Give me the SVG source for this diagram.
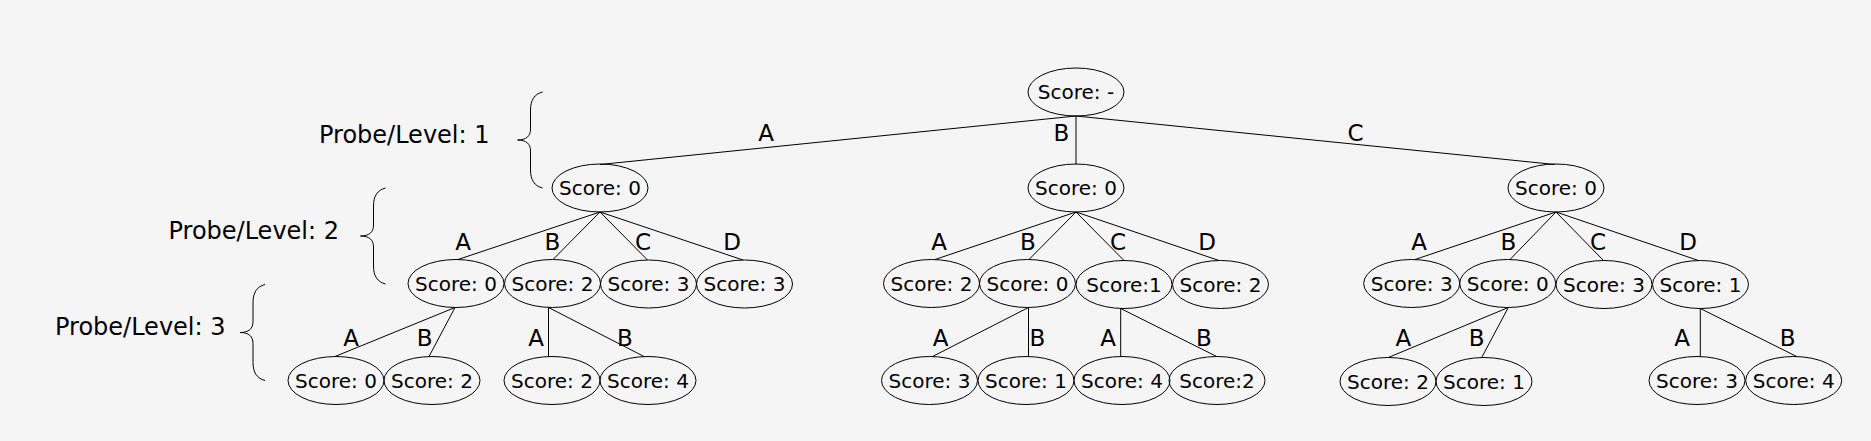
<svg xmlns="http://www.w3.org/2000/svg" xmlns:xlink="http://www.w3.org/1999/xlink" width="1871" height="441" viewBox="0 0 1871 441">
<style>
.bg{fill:#f5f5f5}
.node ellipse{fill:none;stroke:#000;stroke-width:1}
.node text{font-family:"DejaVu Sans","Liberation Sans",sans-serif;font-size:20px;text-anchor:middle;fill:#000}
.edges line{stroke:#000;stroke-width:1}
.elab{font-family:"DejaVu Sans","Liberation Sans",sans-serif;font-size:23px;text-anchor:middle;fill:#000}
.lvl{font-family:"DejaVu Sans","Liberation Sans",sans-serif;font-size:24px;fill:#000}
.brace{fill:none;stroke:#000;stroke-width:1}
</style>
<defs>
<path id="brace" d="M 25 -48 C 17 -46, 13 -40, 13 -30 L 13 -11 C 13 -4, 9 0, 0 0 C 9 0, 13 4, 13 11 L 13 30 C 13 40, 17 46, 25 48"/>
</defs>
<rect class="bg" x="0" y="0" width="1871" height="441"/>

<g id="levels">
<text class="lvl" x="319" y="143">Probe/Level: 1</text>
<use href="#brace" xlink:href="#brace" class="brace" x="517.5" y="140"/>
<text class="lvl" x="168.5" y="239">Probe/Level: 2</text>
<use href="#brace" xlink:href="#brace" class="brace" x="360.5" y="236"/>
<text class="lvl" x="55" y="335">Probe/Level: 3</text>
<use href="#brace" xlink:href="#brace" class="brace" x="240" y="332.5"/>
</g>

<g id="connectors" class="edges">
<line x1="1076" y1="116" x2="600" y2="164.5"/>
<line x1="1076" y1="116" x2="1076" y2="164.5"/>
<line x1="1076" y1="116" x2="1555" y2="164.5"/>
<line x1="600" y1="212" x2="458" y2="259.5"/>
<line x1="600" y1="212" x2="553" y2="259.5"/>
<line x1="600" y1="212" x2="647.5" y2="260"/>
<line x1="600" y1="212" x2="743" y2="260"/>
<line x1="1076" y1="212" x2="935" y2="259.5"/>
<line x1="1076" y1="212" x2="1029" y2="259.5"/>
<line x1="1076" y1="212" x2="1124" y2="260.5"/>
<line x1="1076" y1="212" x2="1219" y2="260.5"/>
<line x1="1556" y1="212" x2="1415" y2="259.5"/>
<line x1="1556" y1="212" x2="1510" y2="259.5"/>
<line x1="1556" y1="212" x2="1603.5" y2="260.5"/>
<line x1="1556" y1="212" x2="1698.5" y2="260.5"/>
<line x1="455" y1="307.5" x2="335" y2="356.5"/>
<line x1="455" y1="307.5" x2="429" y2="356.5"/>
<line x1="548.5" y1="307.5" x2="548.5" y2="356.5"/>
<line x1="548.5" y1="307.5" x2="644" y2="356.5"/>
<line x1="1028.5" y1="307.5" x2="932.5" y2="356.5"/>
<line x1="1028.5" y1="307.5" x2="1028.5" y2="356.5"/>
<line x1="1120.7" y1="308.5" x2="1120.7" y2="356.5"/>
<line x1="1120.7" y1="308.5" x2="1216.7" y2="356.5"/>
<line x1="1508.3" y1="307.5" x2="1388.3" y2="357.5"/>
<line x1="1508.3" y1="307.5" x2="1481.7" y2="357.5"/>
<line x1="1700.3" y1="308.5" x2="1700.3" y2="356.5"/>
<line x1="1700.3" y1="308.5" x2="1796.7" y2="356.5"/>
<text class="elab" x="766" y="141">A</text>
<text class="elab" x="1061.5" y="141">B</text>
<text class="elab" x="1355.5" y="141">C</text>
<text class="elab" x="463" y="250">A</text>
<text class="elab" x="552.5" y="250">B</text>
<text class="elab" x="643" y="250">C</text>
<text class="elab" x="732" y="250">D</text>
<text class="elab" x="939" y="250">A</text>
<text class="elab" x="1028" y="250">B</text>
<text class="elab" x="1118" y="250">C</text>
<text class="elab" x="1207" y="250">D</text>
<text class="elab" x="1419" y="250">A</text>
<text class="elab" x="1508.3" y="250">B</text>
<text class="elab" x="1598" y="250">C</text>
<text class="elab" x="1688" y="250">D</text>
<text class="elab" x="351" y="346">A</text>
<text class="elab" x="424.7" y="346">B</text>
<text class="elab" x="536" y="346">A</text>
<text class="elab" x="625" y="346">B</text>
<text class="elab" x="940.5" y="346">A</text>
<text class="elab" x="1037.5" y="346">B</text>
<text class="elab" x="1108" y="346">A</text>
<text class="elab" x="1204" y="346">B</text>
<text class="elab" x="1403.3" y="346">A</text>
<text class="elab" x="1476.7" y="346">B</text>
<text class="elab" x="1682" y="346">A</text>
<text class="elab" x="1787.7" y="346">B</text>
</g>

<g id="root" class="node"><ellipse cx="1076" cy="92" rx="48" ry="24"/><text x="1076" y="99">Score: -</text></g>
<g id="n_A" class="node"><ellipse cx="600" cy="188" rx="48" ry="24"/><text x="600" y="195">Score: 0</text></g>
<g id="n_B" class="node"><ellipse cx="1076" cy="188" rx="48" ry="24"/><text x="1076" y="195">Score: 0</text></g>
<g id="n_C" class="node"><ellipse cx="1556" cy="188" rx="48" ry="24"/><text x="1556" y="195">Score: 0</text></g>

<g id="n_AA" class="node"><ellipse cx="456" cy="283.5" rx="48" ry="24"/><text x="456" y="290.5">Score: 0</text></g>
<g id="n_AB" class="node"><ellipse cx="552.5" cy="283.5" rx="48" ry="24"/><text x="552.5" y="290.5">Score: 2</text></g>
<g id="n_AC" class="node"><ellipse cx="648.5" cy="284" rx="48" ry="24"/><text x="648.5" y="291">Score: 3</text></g>
<g id="n_AD" class="node"><ellipse cx="744.5" cy="284" rx="48" ry="24"/><text x="744.5" y="291">Score: 3</text></g>
<g id="n_BA" class="node"><ellipse cx="931.5" cy="283.5" rx="48" ry="24"/><text x="931.5" y="290.5">Score: 2</text></g>
<g id="n_BB" class="node"><ellipse cx="1027.5" cy="283.5" rx="48" ry="24"/><text x="1027.5" y="290.5">Score: 0</text></g>
<g id="n_BC" class="node"><ellipse cx="1124" cy="284.5" rx="48" ry="24"/><text x="1124" y="291.5">Score:1</text></g>
<g id="n_BD" class="node"><ellipse cx="1220.5" cy="284.5" rx="48" ry="24"/><text x="1220.5" y="291.5">Score: 2</text></g>
<g id="n_CA" class="node"><ellipse cx="1411.7" cy="283.5" rx="48" ry="24"/><text x="1411.7" y="290.5">Score: 3</text></g>
<g id="n_CB" class="node"><ellipse cx="1507.7" cy="283.5" rx="48" ry="24"/><text x="1507.7" y="290.5">Score: 0</text></g>
<g id="n_CC" class="node"><ellipse cx="1604" cy="284.5" rx="48" ry="24"/><text x="1604" y="291.5">Score: 3</text></g>
<g id="n_CD" class="node"><ellipse cx="1700.5" cy="284.5" rx="48" ry="24"/><text x="1700.5" y="291.5">Score: 1</text></g>

<g id="n_AAA" class="node"><ellipse cx="336" cy="380.5" rx="48" ry="24"/><text x="336" y="387.5">Score: 0</text></g>
<g id="n_AAB" class="node"><ellipse cx="432" cy="380.5" rx="48" ry="24"/><text x="432" y="387.5">Score: 2</text></g>
<g id="n_ABA" class="node"><ellipse cx="552" cy="380.5" rx="48" ry="24"/><text x="552" y="387.5">Score: 2</text></g>
<g id="n_ABB" class="node"><ellipse cx="648" cy="380.5" rx="48" ry="24"/><text x="648" y="387.5">Score: 4</text></g>
<g id="n_BBA" class="node"><ellipse cx="929.5" cy="380.5" rx="48" ry="24"/><text x="929.5" y="387.5">Score: 3</text></g>
<g id="n_BBB" class="node"><ellipse cx="1026" cy="380.5" rx="48" ry="24"/><text x="1026" y="387.5">Score: 1</text></g>
<g id="n_BCA" class="node"><ellipse cx="1122" cy="380.5" rx="48" ry="24"/><text x="1122" y="387.5">Score: 4</text></g>
<g id="n_BCB" class="node"><ellipse cx="1217" cy="380.5" rx="48" ry="24"/><text x="1217" y="387.5">Score:2</text></g>
<g id="n_CBA" class="node"><ellipse cx="1388" cy="381.5" rx="48" ry="24"/><text x="1388" y="388.5">Score: 2</text></g>
<g id="n_CBB" class="node"><ellipse cx="1484" cy="381.5" rx="48" ry="24"/><text x="1484" y="388.5">Score: 1</text></g>
<g id="n_CDA" class="node"><ellipse cx="1697" cy="380.5" rx="48" ry="24"/><text x="1697" y="387.5">Score: 3</text></g>
<g id="n_CDB" class="node"><ellipse cx="1793.7" cy="380.5" rx="48" ry="24"/><text x="1793.7" y="387.5">Score: 4</text></g>
</svg>
